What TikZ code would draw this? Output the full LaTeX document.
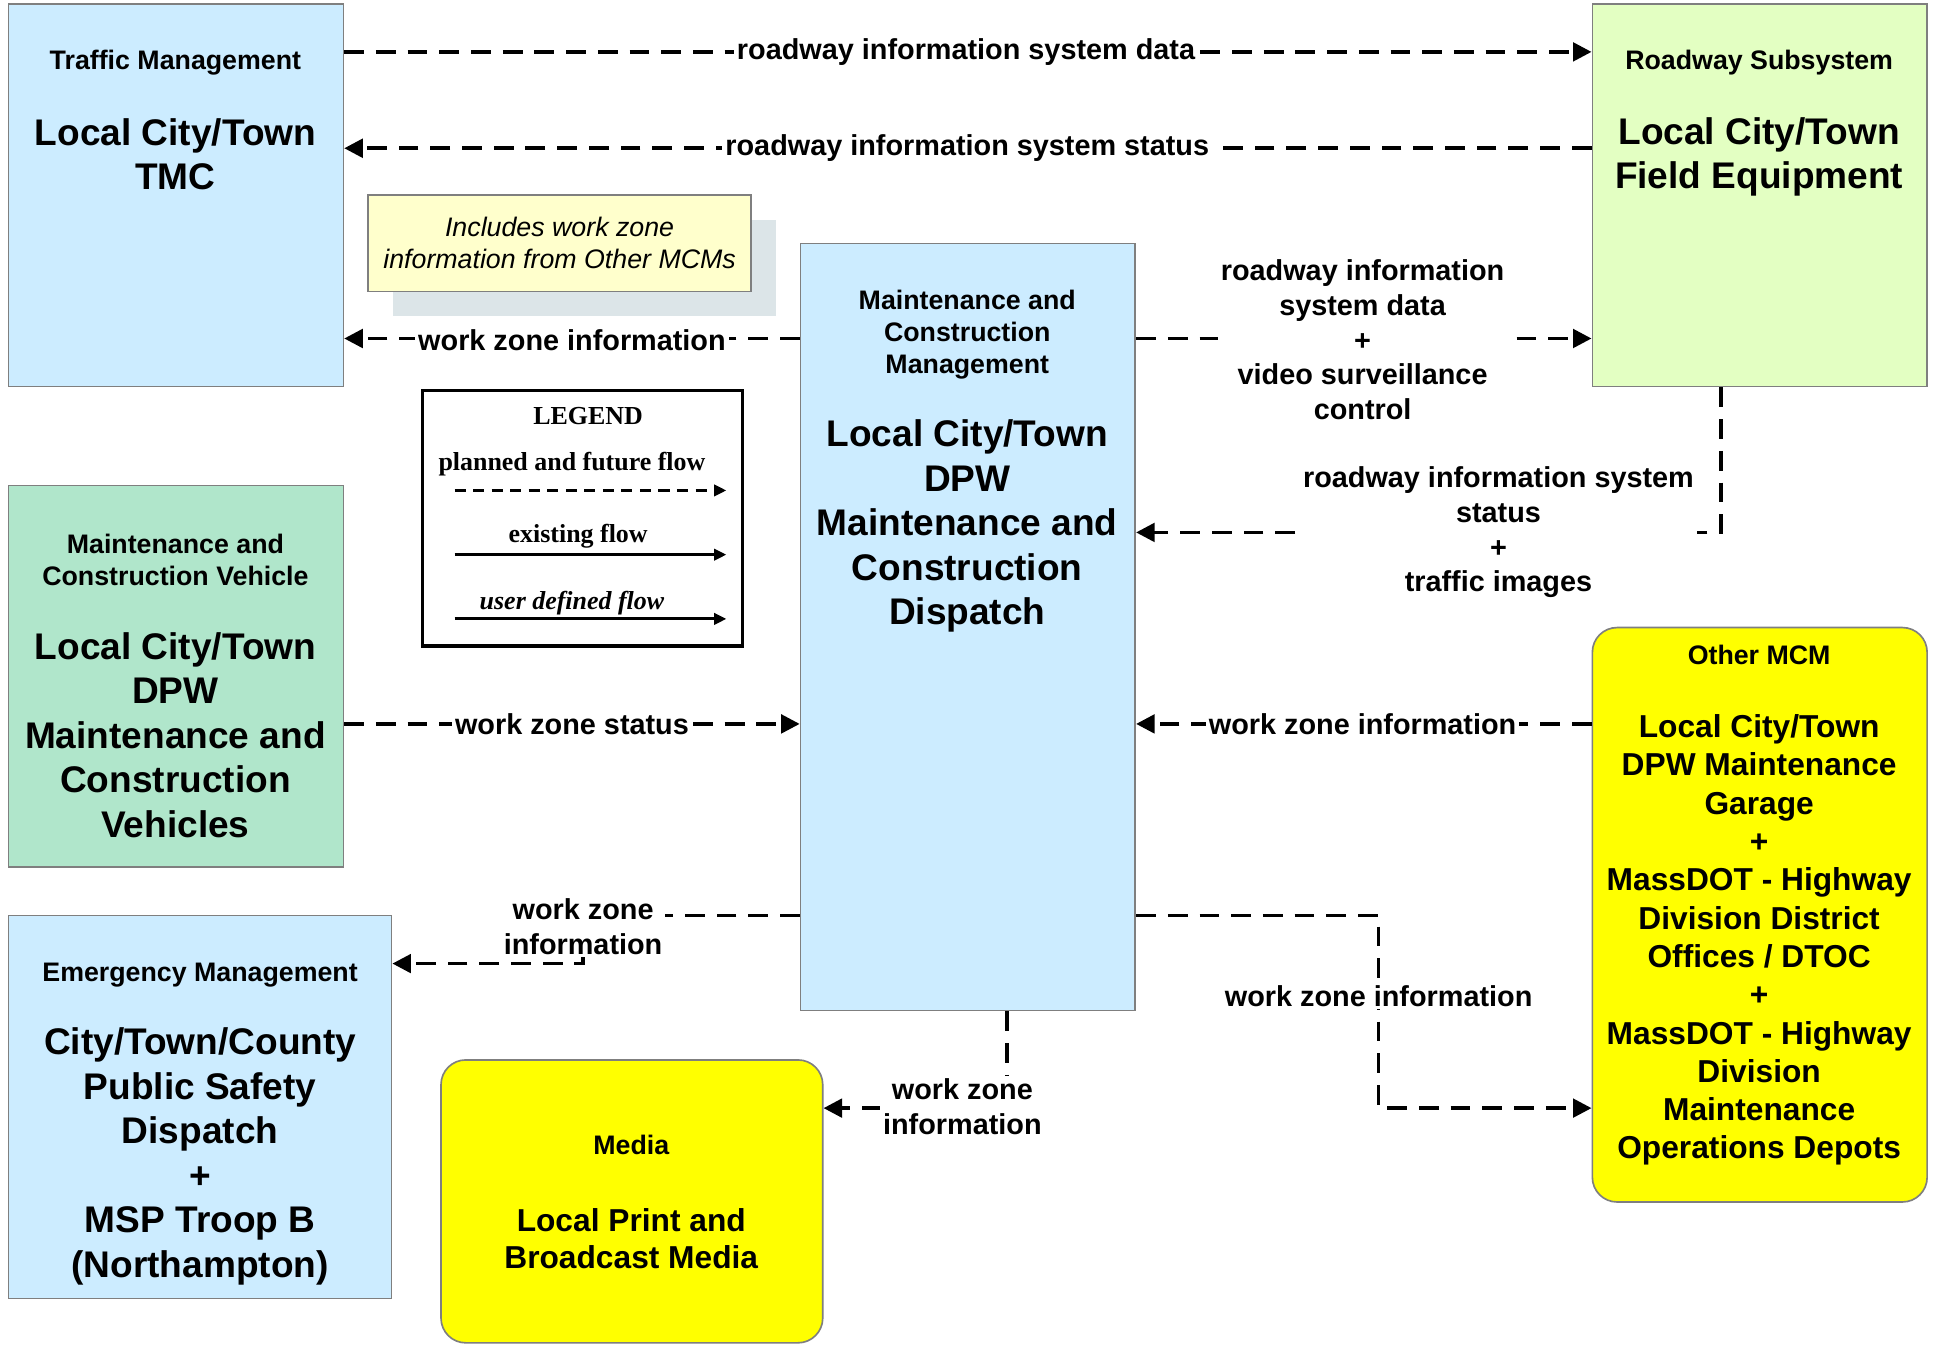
\documentclass[tikz,border=0pt]{standalone}
\usepackage{fontspec}
\setmainfont{Liberation Sans}
\newfontfamily\legfont{Liberation Serif}
\usetikzlibrary{arrows.meta,fit}
\definecolor{lblue}{HTML}{CCECFF}
\definecolor{lgreen}{HTML}{E3FFC2}
\definecolor{mint}{HTML}{B0E6CB}
\definecolor{notec}{HTML}{FFFFCC}
\definecolor{shadowc}{HTML}{DCE5E8}
\definecolor{boxgray}{HTML}{7F7F7F}
\definecolor{ylw}{HTML}{FFFF00}
\begin{document}
\begin{tikzpicture}[x=0.6pt,y=-0.6pt,
  box/.style={draw=boxgray, line width=0.8pt, inner sep=0pt},
  rbox/.style={box, rounded corners=12pt},
  ttl/.style={font=\bfseries\fontsize{13}{15.6}\selectfont, align=center, inner sep=0pt},
  big/.style={font=\bfseries\fontsize{18}{21.6}\selectfont, align=center, inner sep=0pt},
  mid/.style={font=\bfseries\fontsize{15.4}{18.6}\selectfont, align=center, inner sep=0pt},
  lbl/.style={font=\bfseries\fontsize{14}{16.8}\selectfont, align=center, fill=white, inner sep=1.5pt},
  flow/.style={line width=1.7pt, dash pattern=on 9.6pt off 5.8pt, -{Triangle[length=9pt,width=9pt]}},
  legtxt/.style={font=\legfont\bfseries\fontsize{12.6}{15}\selectfont, inner sep=0pt},
  legarrow/.style={line width=1.5pt, -{Triangle[length=6pt,width=5.5pt]}},
]
\useasboundingbox (0,0) rectangle (1568,1088);
\fill[white] (0,0) rectangle (1568,1088);

% note with shadow
\node[fit={(318,178) (628,256)}, inner sep=0pt, fill=shadowc] (noteshadow) {};
\node[fit={(298,158) (608,236)}, box, fill=notec] (note) {};
\node[font=\itshape\fontsize{13}{15.6}\selectfont, align=center, inner sep=0pt] (notetxt) at (453,197) {Includes work zone\\information from Other MCMs};

% boxes
\node[fit={(7,3) (278,313)}, box, fill=lblue] (tmc) {};
\node[fit={(1289,3) (1560,313)}, box, fill=lgreen] (road) {};
\node[fit={(648,197) (919,818)}, box, fill=lblue] (dpw) {};
\node[fit={(7,393) (278,702)}, box, fill=mint] (mcv) {};
\node[fit={(7,741) (317,1051)}, box, fill=lblue] (em) {};
\node[fit={(357,858) (666,1087)}, rbox, fill=ylw] (media) {};
\node[fit={(1289,508) (1560,973)}, rbox, fill=ylw] (mcm) {};

% legend
\node[fit={(342,316) (601,523)}, draw=black, line width=1.6pt, inner sep=0pt] (legend) {};
\node[legtxt] (legtitle) at (476,337) {LEGEND};
\node[legtxt] (legplan) at (463,376) {planned and future flow};
\node[legtxt] (legexist) at (468,434) {existing flow};
\node[legtxt, font=\legfont\bfseries\itshape\fontsize{12.6}{15}\selectfont] (leguser) at (463,488) {user defined flow};
\coordinate (la1) at (368,397); \coordinate (lb1) at (588,397);
\coordinate (la2) at (368,449); \coordinate (lb2) at (588,449);
\coordinate (la3) at (368,501); \coordinate (lb3) at (588,501);
\draw[legarrow, dash pattern=on 5.4pt off 3.6pt] (la1) -- (lb1);
\draw[legarrow] (la2) -- (lb2);
\draw[legarrow] (la3) -- (lb3);

% connector levels
\coordinate (y42) at (0,42);
\coordinate (y120) at (0,120);
\coordinate (y274) at (0,274);
\coordinate (y586) at (0,586);
\coordinate (c1) at (1393,431);
\coordinate (c2) at (472,741);
\coordinate (c3) at (472,780);
\coordinate (c4) at (815,897);
\coordinate (c5) at (1116,741);
\coordinate (c6) at (1116,897);

\draw[flow] (tmc.east |- y42) -- (road.west |- y42);
\draw[flow] (road.west |- y120) -- (tmc.east |- y120);
\draw[flow] (dpw.west |- y274) -- (tmc.east |- y274);
\draw[flow] (dpw.east |- y274) -- (road.west |- y274);
\draw[flow] (road.south -| c1) -- (c1) -- (dpw.east |- c1);
\draw[flow] (mcv.east |- y586) -- (dpw.west |- y586);
\draw[flow] (mcm.west |- y586) -- (dpw.east |- y586);
\draw[flow] (dpw.west |- c2) -- (c2) -- (c3) -- (em.east |- c3);
\draw[flow] (dpw.south -| c4) -- (c4) -- (media.east |- c4);
\draw[flow] (dpw.east |- c5) -- (c5) -- (c6) -- (mcm.west |- c6);

% connector labels
\node[lbl] (l1) at (782,42) {roadway information system data};
\node[lbl] (l2) at (783,120) {roadway information system status};
\node[lbl] (l3) at (463,275) {work zone information};
\node[lbl] (l4) at (1103,275) {roadway information\\system data\\+\\video surveillance\\control};
\node[lbl] (l5) at (1213,431) {roadway information system\\status\\+\\traffic images};
\node[lbl] (l6) at (463,586) {work zone status};
\node[lbl] (l7) at (1103,586) {work zone information};
\node[lbl] (l8) at (472,750) {work zone\\information};
\node[lbl] (l9) at (779,896) {work zone\\information};
\node[lbl] (l10) at (1116,806) {work zone information};

% box texts
\node[ttl] (tmct) at (142,51) {Traffic Management};
\node[big] (tmcb) at (142,125) {Local City/Town\\TMC};
\node[ttl] (roadt) at (1424,51) {Roadway Subsystem};
\node[big] (roadb) at (1424,127) {Local City/Town\\Field Equipment};
\node[ttl] (dpwt) at (783,271) {Maintenance and\\Construction\\Management};
\node[big] (dpwb) at (783,426) {Local City/Town\\DPW\\Maintenance and\\Construction\\Dispatch};
\node[ttl] (mcvt) at (142,453) {Maintenance and\\Construction Vehicle};
\node[big] (mcvb) at (142,595) {Local City/Town\\DPW\\Maintenance and\\Construction\\Vehicles};
\node[ttl] (emt) at (162,789) {Emergency Management};
\node[big] (emb) at (162,936) {City/Town/County\\Public Safety\\Dispatch\\+\\MSP Troop B\\(Northampton)};
\node[ttl] (mediat) at (511,927) {Media};
\node[mid, font=\bfseries\fontsize{15.4}{18}\selectfont] (mediab) at (511,1003) {Local Print and\\Broadcast Media};
\node[ttl] (mcmt) at (1424,530) {Other MCM};
\node[mid] (mcmb) at (1424,761) {Local City/Town\\DPW Maintenance\\Garage\\+\\MassDOT - Highway\\Division District\\Offices / DTOC\\+\\MassDOT - Highway\\Division\\Maintenance\\Operations Depots};
\end{tikzpicture}
\end{document}
